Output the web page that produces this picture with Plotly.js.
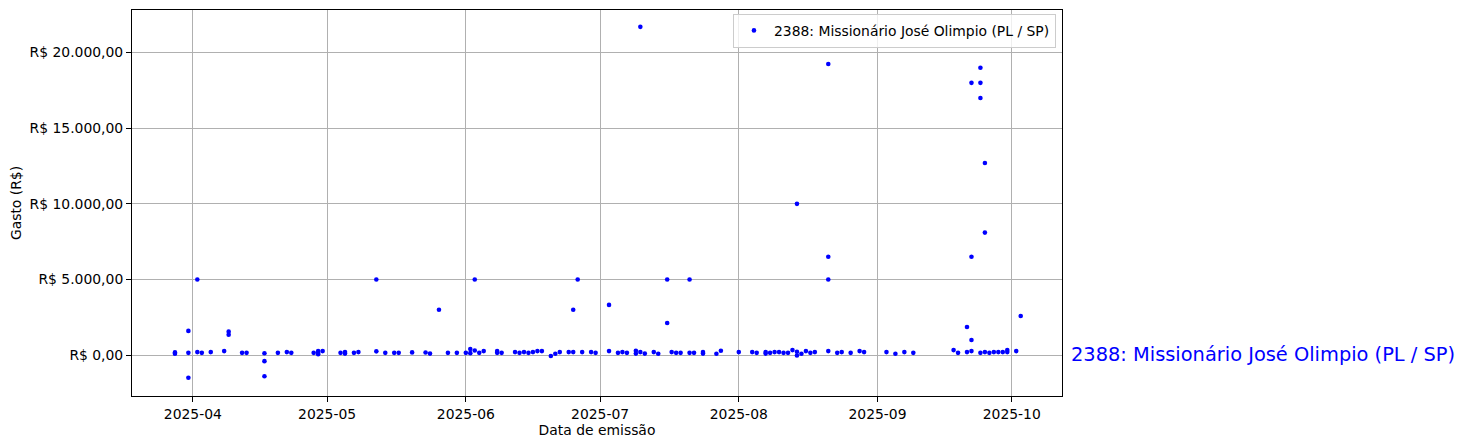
<!DOCTYPE html>
<html>
<head>
<meta charset="utf-8">
<script src="https://cdn.plot.ly/plotly-3.0.1.min.js"></script>
<style>
  html, body { margin: 0; padding: 0; background: #fff; }
  #chart { width: 1467px; height: 448px; }
</style>
</head>
<body>
<div id="chart"></div>
<script>
// ---- Data ----
const seriesName = '2388: Missionário José Olimpio (PL / SP)';

const dataEmissao = [
  '2025-03-28','2025-03-28',
  '2025-03-31','2025-03-31','2025-03-31',
  '2025-04-02','2025-04-02',
  '2025-04-03','2025-04-05','2025-04-08',
  '2025-04-09','2025-04-09',
  '2025-04-12','2025-04-13',
  '2025-04-17','2025-04-17','2025-04-17',
  '2025-04-20','2025-04-22','2025-04-23','2025-04-28',
  '2025-04-29','2025-04-29','2025-04-29',
  '2025-04-30',
  '2025-05-04',
  '2025-05-05','2025-05-05',
  '2025-05-07','2025-05-08',
  '2025-05-12','2025-05-12',
  '2025-05-14','2025-05-16','2025-05-17','2025-05-20','2025-05-23','2025-05-24',
  '2025-05-26','2025-05-28','2025-05-30',
  '2025-06-01',
  '2025-06-02','2025-06-02',
  '2025-06-03','2025-06-03',
  '2025-06-04','2025-06-05',
  '2025-06-08','2025-06-08',
  '2025-06-09','2025-06-12','2025-06-13','2025-06-14','2025-06-15','2025-06-16',
  '2025-06-17','2025-06-18','2025-06-20','2025-06-21','2025-06-22','2025-06-24',
  '2025-06-25','2025-06-25',
  '2025-06-26','2025-06-27','2025-06-29','2025-06-30',
  '2025-07-03','2025-07-03',
  '2025-07-05','2025-07-06','2025-07-07',
  '2025-07-09','2025-07-09',
  '2025-07-10','2025-07-10',
  '2025-07-11','2025-07-13','2025-07-14',
  '2025-07-16','2025-07-16',
  '2025-07-17','2025-07-18','2025-07-19',
  '2025-07-21','2025-07-21',
  '2025-07-22',
  '2025-07-24','2025-07-24',
  '2025-07-27','2025-07-28',
  '2025-08-01','2025-08-04','2025-08-05',
  '2025-08-07','2025-08-07',
  '2025-08-08','2025-08-09','2025-08-10','2025-08-11','2025-08-12','2025-08-13',
  '2025-08-14','2025-08-14','2025-08-14',
  '2025-08-15','2025-08-16','2025-08-17','2025-08-18',
  '2025-08-21','2025-08-21','2025-08-21','2025-08-21',
  '2025-08-23','2025-08-24','2025-08-26','2025-08-28','2025-08-29',
  '2025-09-03','2025-09-05','2025-09-07','2025-09-09',
  '2025-09-18','2025-09-19',
  '2025-09-21','2025-09-21',
  '2025-09-22','2025-09-22','2025-09-22','2025-09-22',
  '2025-09-24','2025-09-24','2025-09-24','2025-09-24',
  '2025-09-25','2025-09-25','2025-09-25',
  '2025-09-26','2025-09-27','2025-09-28','2025-09-29',
  '2025-09-30','2025-09-30',
  '2025-10-02','2025-10-03'
];

const gasto = [
  180, 90,
  150, 1600, -1500,
  5000, 200,
  150, 200, 265,
  1550, 1350,
  150, 150,
  -400, -1400, 120,
  150, 200, 150, 150,
  150, 60, 265,
  265,
  150,
  200, 100,
  150, 200,
  5000, 250,
  150, 150, 150, 180, 170, 100,
  3000, 150, 150,
  150,
  130, 400,
  300, 5000,
  150, 265,
  265, 150,
  150, 200, 150, 200, 150, 200,
  265, 265, -60, 90, 200, 200,
  200, 3000,
  5000, 200, 200, 150,
  265, 3320,
  150, 200, 150,
  100, 290,
  200, 21700,
  100, 200, 90,
  5000, 2120,
  200, 150, 150,
  150, 5000,
  150,
  200, 100,
  90, 290,
  200, 200, 150,
  200, 100,
  150, 200, 200, 150, 150, 330,
  10000, 220, -30,
  90, 265, 150, 200,
  19250, 6500, 5000, 265,
  150, 200, 150, 265, 200,
  200, 90, 200, 150,
  330, 150,
  200, 1860,
  265, 1000, 6500, 18000,
  150, 19000, 18000, 17000,
  200, 12700, 8100,
  150, 200, 200, 200,
  330, 200,
  265, 2590
];

const xTickVals = ['2025-04-01','2025-05-01','2025-06-01','2025-07-01','2025-08-01','2025-09-01','2025-10-01'];
const xTickText = ['2025-04','2025-05','2025-06','2025-07','2025-08','2025-09','2025-10'];
const yTickVals = [0, 5000, 10000, 15000, 20000];

// ---- Formatting helpers ----
function brl(v) {
  const neg = v < 0;
  const abs = Math.abs(v);
  const intPart = Math.floor(abs).toString().replace(/\B(?=(\d{3})+(?!\d))/g, '.');
  const dec = Math.round((abs - Math.floor(abs)) * 100).toString().padStart(2, '0');
  return (neg ? '-' : '') + 'R$ ' + intPart + ',' + dec;
}
const yTickText = yTickVals.map(brl);

const FONT = 'DejaVu Sans, Verdana, sans-serif';

const trace = {
  type: 'scatter',
  mode: 'markers',
  x: dataEmissao,
  y: gasto,
  name: seriesName,
  marker: { color: 'blue', size: 4.6, line: { width: 0 } },
  showlegend: true
};

const layout = {
  width: 1467,
  height: 448,
  margin: { l: 132, r: 405, t: 10, b: 52 },
  paper_bgcolor: 'white',
  plot_bgcolor: 'white',
  font: { family: FONT, size: 13.9, color: 'black' },
  showlegend: true,
  xaxis: {
    type: 'date',
    range: ['2025-03-18 09:36', '2025-10-12 05:30'],
    tickvals: xTickVals,
    ticktext: xTickText,
    ticks: 'outside',
    ticklen: 5,
    tickwidth: 1,
    tickcolor: 'black',
    showgrid: true,
    gridcolor: '#b0b0b0',
    gridwidth: 1,
    showline: true,
    mirror: true,
    linecolor: 'black',
    linewidth: 1,
    zeroline: false,
    automargin: false,
    tickfont: { family: FONT, size: 13.9, color: 'black' },
    title: { text: 'Data de emissão', font: { family: FONT, size: 13.9, color: 'black' }, standoff: 4 }
  },
  yaxis: {
    range: [-2703, 22815],
    tickvals: yTickVals,
    ticktext: yTickText,
    ticks: 'outside',
    ticklen: 5,
    tickwidth: 1,
    tickcolor: 'black',
    showgrid: true,
    gridcolor: '#b0b0b0',
    gridwidth: 1,
    showline: true,
    mirror: true,
    linecolor: 'black',
    linewidth: 1,
    zeroline: false,
    automargin: false,
    tickfont: { family: FONT, size: 13.9, color: 'black' },
    title: { text: 'Gasto (R$)', font: { family: FONT, size: 13.9, color: 'black' }, standoff: 4 }
  },
  legend: {
    x: 0.9935,
    y: 0.99,
    xanchor: 'right',
    yanchor: 'top',
    bgcolor: 'rgba(255,255,255,0.8)',
    bordercolor: '#cccccc',
    borderwidth: 1,
    font: { family: FONT, size: 13.9, color: 'black' },
    itemsizing: 'trace'
  },
  annotations: [{
    xref: 'paper',
    yref: 'y',
    x: 1.0075,
    y: 0,
    yshift: 1,
    xanchor: 'left',
    yanchor: 'middle',
    text: seriesName,
    showarrow: false,
    font: { family: FONT, size: 19.4, color: 'blue' }
  }]
};

Plotly.newPlot('chart', [trace], layout, { displayModeBar: false, responsive: false, staticPlot: true });
</script>
</body>
</html>
